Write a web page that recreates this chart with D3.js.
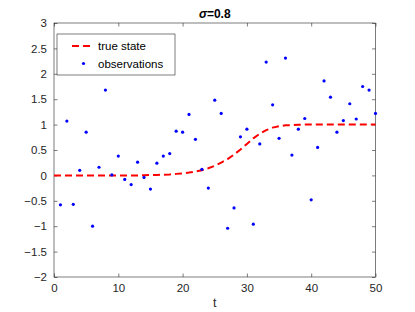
<!DOCTYPE html>
<html>
<head>
<meta charset="utf-8">
<script src="https://cdn.jsdelivr.net/npm/d3@7"></script>
<style>
  body { margin: 0; background: #fff; }
  text { font-family: "Liberation Sans", Arial, sans-serif; }
</style>
</head>
<body>
<div id="chart"></div>
<script>
// observations, t = 1..50
const obsT = d3.range(1, 51);
const obsY = [-0.58, 1.07, -0.57, 0.10, 0.85, -1.00, 0.16, 1.68, 0.01, 0.38,
              -0.08, -0.18, 0.26, -0.04, -0.27, 0.24, 0.38, 0.43, 0.87, 0.85,
              1.20, 0.71, 0.12, -0.25, 1.48, 1.22, -1.04, -0.64, 0.76, 0.91,
              -0.96, 0.62, 2.23, 1.39, 0.73, 2.31, 0.40, 0.91, 1.12, -0.48,
              0.55, 1.86, 1.54, 0.85, 1.08, 1.41, 1.11, 1.75, 1.68, 1.22];

// true state, t = 0..50
const stateT = d3.range(0, 51);
const stateY = [0, 0, 0, 0, 0, 0, 0, 0, 0, 0,
                0, 0, 0, 0, 0.005, 0.007, 0.01, 0.013, 0.02, 0.03,
                0.04, 0.055, 0.075, 0.10, 0.14, 0.19, 0.25, 0.32, 0.41, 0.51,
                0.62, 0.73, 0.82, 0.89, 0.94, 0.97, 0.985, 0.99, 0.995, 1.0,
                1, 1, 1, 1, 1, 1, 1, 1, 1, 1, 1];

const xTicks = [0, 10, 20, 30, 40, 50];
const yTicks = [-2, -1.5, -1, -0.5, 0, 0.5, 1, 1.5, 2, 2.5, 3];

const W = 415, H = 312;
const margin = { top: 23, right: 39.5, bottom: 35, left: 54 };
const width = W - margin.left - margin.right,
      height = H - margin.top - margin.bottom;

const svg = d3.select("#chart").append("svg")
    .attr("width", W)
    .attr("height", H);

const x = d3.scaleLinear().domain([0, 50]).range([0, width]);
const y = d3.scaleLinear().domain([-2, 3]).range([height, 0]);

const g = svg.append("g")
    .attr("transform", `translate(${margin.left},${margin.top})`);

const axisColor = "#262626";

function styleAxis(sel, labels) {
    sel.select(".domain").remove();
    sel.selectAll(".tick line").attr("stroke", axisColor).attr("stroke-width", 0.6);
    sel.selectAll(".tick text")
        .attr("fill", labels ? axisColor : "none")
        .style("font-size", "11.5px");
}

// bottom / top
g.append("g")
    .attr("transform", `translate(0,${height})`)
    .call(d3.axisBottom(x).tickValues(xTicks).tickSize(-3.5).tickPadding(7))
    .call(s => styleAxis(s, true));
g.append("g")
    .call(d3.axisTop(x).tickValues(xTicks).tickSize(-3.5).tickFormat(""))
    .call(s => styleAxis(s, false));

// left / right
g.append("g")
    .call(d3.axisLeft(y).tickValues(yTicks).tickSize(-3.5).tickPadding(7)
        .tickFormat(d3.format("")))
    .call(s => styleAxis(s, true));
g.append("g")
    .attr("transform", `translate(${width},0)`)
    .call(d3.axisRight(y).tickValues(yTicks).tickSize(-3.5).tickFormat(""))
    .call(s => styleAxis(s, false));

// box
g.append("rect")
    .attr("width", width)
    .attr("height", height)
    .attr("fill", "none")
    .attr("stroke", axisColor)
    .attr("stroke-width", 0.6);

// true state
const line = d3.line()
    .x((d, i) => x(stateT[i]))
    .y(d => y(d));

g.append("path")
    .datum(stateY)
    .attr("fill", "none")
    .attr("stroke", "#ff0000")
    .attr("stroke-width", 2)
    .attr("stroke-dasharray", "7,4")
    .attr("d", line);

// observations
g.selectAll("circle.obs")
    .data(obsY)
    .enter().append("circle")
    .attr("class", "obs")
    .attr("cx", (d, i) => x(obsT[i]))
    .attr("cy", d => y(d))
    .attr("r", 1.6)
    .attr("fill", "#0000ff");

// title
svg.append("text")
    .attr("x", margin.left + width / 2)
    .attr("y", 18)
    .attr("text-anchor", "middle")
    .style("font-size", "12px")
    .style("font-weight", "bold")
    .attr("fill", "#000")
    .html('<tspan font-style="italic">σ</tspan>=0.8');

// x label
svg.append("text")
    .attr("x", margin.left + width / 2)
    .attr("y", 307)
    .attr("text-anchor", "middle")
    .style("font-size", "12.5px")
    .attr("fill", axisColor)
    .text("t");

// legend
const lg = svg.append("g").attr("transform", "translate(57,34)");
lg.append("rect")
    .attr("width", 118)
    .attr("height", 41)
    .attr("fill", "#fff")
    .attr("stroke", axisColor)
    .attr("stroke-width", 0.6);
lg.append("line")
    .attr("x1", 15).attr("x2", 34)
    .attr("y1", 12).attr("y2", 12)
    .attr("stroke", "#ff0000")
    .attr("stroke-width", 2)
    .attr("stroke-dasharray", "7,4");
lg.append("text")
    .attr("x", 41).attr("y", 16)
    .style("font-size", "11.5px")
    .attr("fill", "#000")
    .text("true state");
lg.append("circle")
    .attr("cx", 26.5).attr("cy", 29.5)
    .attr("r", 1.6)
    .attr("fill", "#0000ff");
lg.append("text")
    .attr("x", 41).attr("y", 34)
    .style("font-size", "11.5px")
    .attr("fill", "#000")
    .text("observations");
</script>
</body>
</html>
